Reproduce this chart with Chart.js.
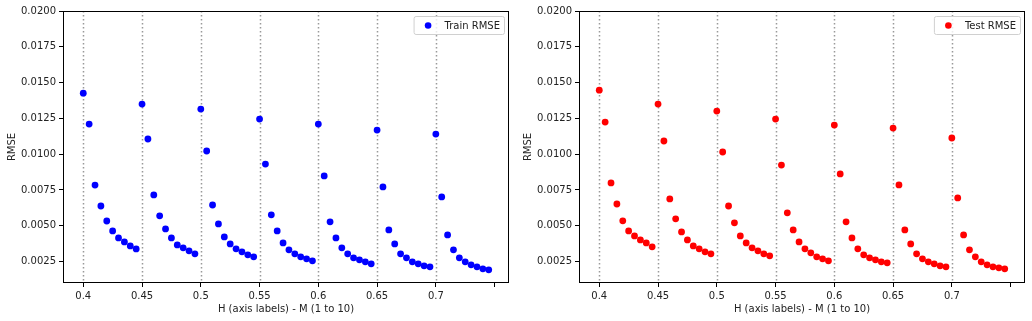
<!DOCTYPE html>
<html>
<head>
<meta charset="utf-8">
<script src="https://cdn.jsdelivr.net/npm/chart.js@4.4.0/dist/chart.umd.min.js"></script>
<style>
    html, body { margin: 0; padding: 0; background: #fff; }
    .wrap { display: flex; width: 1032px; height: 321px; }
    .panel { position: relative; width: 516px; height: 321px; }
</style>
</head>
<body>
<div class="wrap">
    <div class="panel"><canvas id="trainChart"></canvas></div>
    <div class="panel"><canvas id="testChart"></canvas></div>
</div>
<script>
// H values (axis labels) and M (1 to 10) inside each H group
const hValues = [0.4, 0.45, 0.5, 0.55, 0.6, 0.65, 0.7];
const mValues = [1, 2, 3, 4, 5, 6, 7, 8, 9, 10];

// RMSE per H (rows) and M (columns)
const trainRmse = [
    [0.01426, 0.01210, 0.00784, 0.00638, 0.00533, 0.00464, 0.00415, 0.00387, 0.00359, 0.00338],
    [0.01350, 0.01106, 0.00715, 0.00569, 0.00478, 0.00415, 0.00366, 0.00346, 0.00325, 0.00304],
    [0.01315, 0.01022, 0.00645, 0.00513, 0.00422, 0.00373, 0.00339, 0.00318, 0.00297, 0.00283],
    [0.01245, 0.00931, 0.00576, 0.00464, 0.00380, 0.00332, 0.00304, 0.00283, 0.00269, 0.00255],
    [0.01210, 0.00848, 0.00527, 0.00415, 0.00346, 0.00304, 0.00276, 0.00262, 0.00248, 0.00234],
    [0.01168, 0.00771, 0.00471, 0.00373, 0.00304, 0.00276, 0.00248, 0.00234, 0.00220, 0.00213],
    [0.01140, 0.00701, 0.00436, 0.00332, 0.00276, 0.00248, 0.00227, 0.00213, 0.00199, 0.00192]
];
const testRmse = [
    [0.01447, 0.01224, 0.00799, 0.00652, 0.00534, 0.00464, 0.00429, 0.00401, 0.00380, 0.00353],
    [0.01350, 0.01092, 0.00687, 0.00548, 0.00457, 0.00401, 0.00359, 0.00339, 0.00318, 0.00304],
    [0.01301, 0.01015, 0.00638, 0.00520, 0.00429, 0.00380, 0.00346, 0.00325, 0.00304, 0.00290],
    [0.01245, 0.00924, 0.00590, 0.00471, 0.00387, 0.00339, 0.00311, 0.00283, 0.00269, 0.00255],
    [0.01203, 0.00862, 0.00527, 0.00415, 0.00339, 0.00297, 0.00276, 0.00262, 0.00248, 0.00241],
    [0.01182, 0.00785, 0.00471, 0.00373, 0.00304, 0.00269, 0.00248, 0.00234, 0.00220, 0.00213],
    [0.01113, 0.00694, 0.00436, 0.00332, 0.00283, 0.00248, 0.00227, 0.00213, 0.00206, 0.00199]
];

const xTicks = [0.4, 0.45, 0.5, 0.55, 0.6, 0.65, 0.7, 0.75];
const xTickLabels = ['0.4', '0.45', '0.5', '0.55', '0.6', '0.65', '0.7', ''];
const yTicks = [0.0025, 0.005, 0.0075, 0.01, 0.0125, 0.015, 0.0175, 0.02];
const mStep = 0.005;

Chart.defaults.font.family = "'DejaVu Sans', sans-serif";
Chart.defaults.font.size = 10;
Chart.defaults.color = '#222';

// x = H + (M-1) * step, y = RMSE
const toPoints = (rows) => {
    const pts = [];
    hValues.forEach((h, i) => {
        mValues.forEach((m, j) => {
            pts.push({ x: h + (m - 1) * mStep, y: rows[i][j] });
        });
    });
    return pts;
};

// dotted vertical lines at each H + frame round the axes
const frameAndLines = {
    id: 'frameAndLines',
    beforeDatasetsDraw(chart) {
        const { ctx, chartArea, scales } = chart;
        ctx.save();
        ctx.strokeStyle = '#999';
        ctx.lineWidth = 1.5;
        ctx.setLineDash([1.5, 2.5]);
        hValues.forEach(h => {
            const px = Math.round(scales.x.getPixelForValue(h)) + 0.5;
            ctx.beginPath();
            ctx.moveTo(px, chartArea.top);
            ctx.lineTo(px, chartArea.bottom);
            ctx.stroke();
        });
        ctx.restore();
    },
    afterDatasetsDraw(chart) {
        const { ctx, chartArea } = chart;
        ctx.save();
        ctx.strokeStyle = '#000';
        ctx.lineWidth = 1;
        ctx.strokeRect(chartArea.left + 0.5, chartArea.top + 0.5,
            chartArea.right - chartArea.left - 1, chartArea.bottom - chartArea.top - 1);
        ctx.restore();
    }
};

// matplotlib-like legend box in the upper right
const legendBox = {
    id: 'legendBox',
    afterDraw(chart) {
        const { ctx, chartArea } = chart;
        const ds = chart.data.datasets[0];
        ctx.save();
        ctx.font = "10px 'DejaVu Sans', sans-serif";
        const tw = ctx.measureText(ds.label).width;
        const w = 31 + tw + 4;
        const h = 18;
        const x = chartArea.right - 5 - w;
        const y = chartArea.top + 5;
        ctx.beginPath();
        ctx.roundRect(x + 0.5, y + 0.5, w, h, 2);
        ctx.fillStyle = 'rgba(255,255,255,0.8)';
        ctx.fill();
        ctx.strokeStyle = '#d0d0d0';
        ctx.lineWidth = 1;
        ctx.stroke();
        ctx.beginPath();
        ctx.arc(x + 14.5, y + 9.5, 3.3, 0, Math.PI * 2);
        ctx.fillStyle = ds.backgroundColor;
        ctx.fill();
        ctx.fillStyle = '#222';
        ctx.textBaseline = 'middle';
        ctx.fillText(ds.label, x + 31, y + 10);
        ctx.restore();
    }
};

const criarGrafico = (id, label, rows, color) => {
    const ctx = document.getElementById(id).getContext('2d');
    return new Chart(ctx, {
        type: 'scatter',
        data: {
            datasets: [{
                label: label,
                data: toPoints(rows),
                backgroundColor: color,
                borderColor: color,
                borderWidth: 0,
                pointRadius: 3.4,
                pointHoverRadius: 3.4
            }]
        },
        options: {
            responsive: true,
            maintainAspectRatio: false,
            animation: false,
            layout: { padding: { top: 11, right: 7, left: 0, bottom: 0 } },
            plugins: {
                legend: { display: false },
                tooltip: { enabled: false }
            },
            scales: {
                x: {
                    type: 'linear',
                    min: 0.38275,
                    max: 0.76225,
                    afterBuildTicks: (scale) => {
                        scale.ticks = xTicks.map(v => ({ value: v }));
                    },
                    afterFit: (scale) => { scale.height = 38; },
                    ticks: {
                        autoSkip: false,
                        maxRotation: 0,
                        padding: 3,
                        color: '#222',
                        callback: (value) => {
                            const i = xTicks.findIndex(t => Math.abs(t - value) < 1e-9);
                            return i >= 0 ? xTickLabels[i] : '';
                        }
                    },
                    grid: {
                        drawOnChartArea: false,
                        drawTicks: true,
                        tickLength: 4,
                        tickColor: '#000'
                    },
                    border: { display: false },
                    title: {
                        display: true,
                        text: 'H (axis labels) - M (1 to 10)',
                        color: '#222',
                        padding: { top: 0, bottom: 6 }
                    }
                },
                y: {
                    type: 'linear',
                    min: 0.001,
                    max: 0.02,
                    afterBuildTicks: (scale) => {
                        scale.ticks = yTicks.map(v => ({ value: v }));
                    },
                    afterFit: (scale) => { scale.width = 63; },
                    ticks: {
                        padding: 3,
                        color: '#222',
                        callback: (value) => Number(value).toFixed(4)
                    },
                    grid: {
                        drawOnChartArea: false,
                        drawTicks: true,
                        tickLength: 4,
                        tickColor: '#000'
                    },
                    border: { display: false },
                    title: {
                        display: true,
                        text: 'RMSE',
                        color: '#222',
                        padding: { top: 6, bottom: 0 }
                    }
                }
            }
        },
        plugins: [frameAndLines, legendBox]
    });
};

criarGrafico('trainChart', 'Train RMSE', trainRmse, '#0000ff');
criarGrafico('testChart', 'Test RMSE', testRmse, '#ff0000');
</script>
</body>
</html>
